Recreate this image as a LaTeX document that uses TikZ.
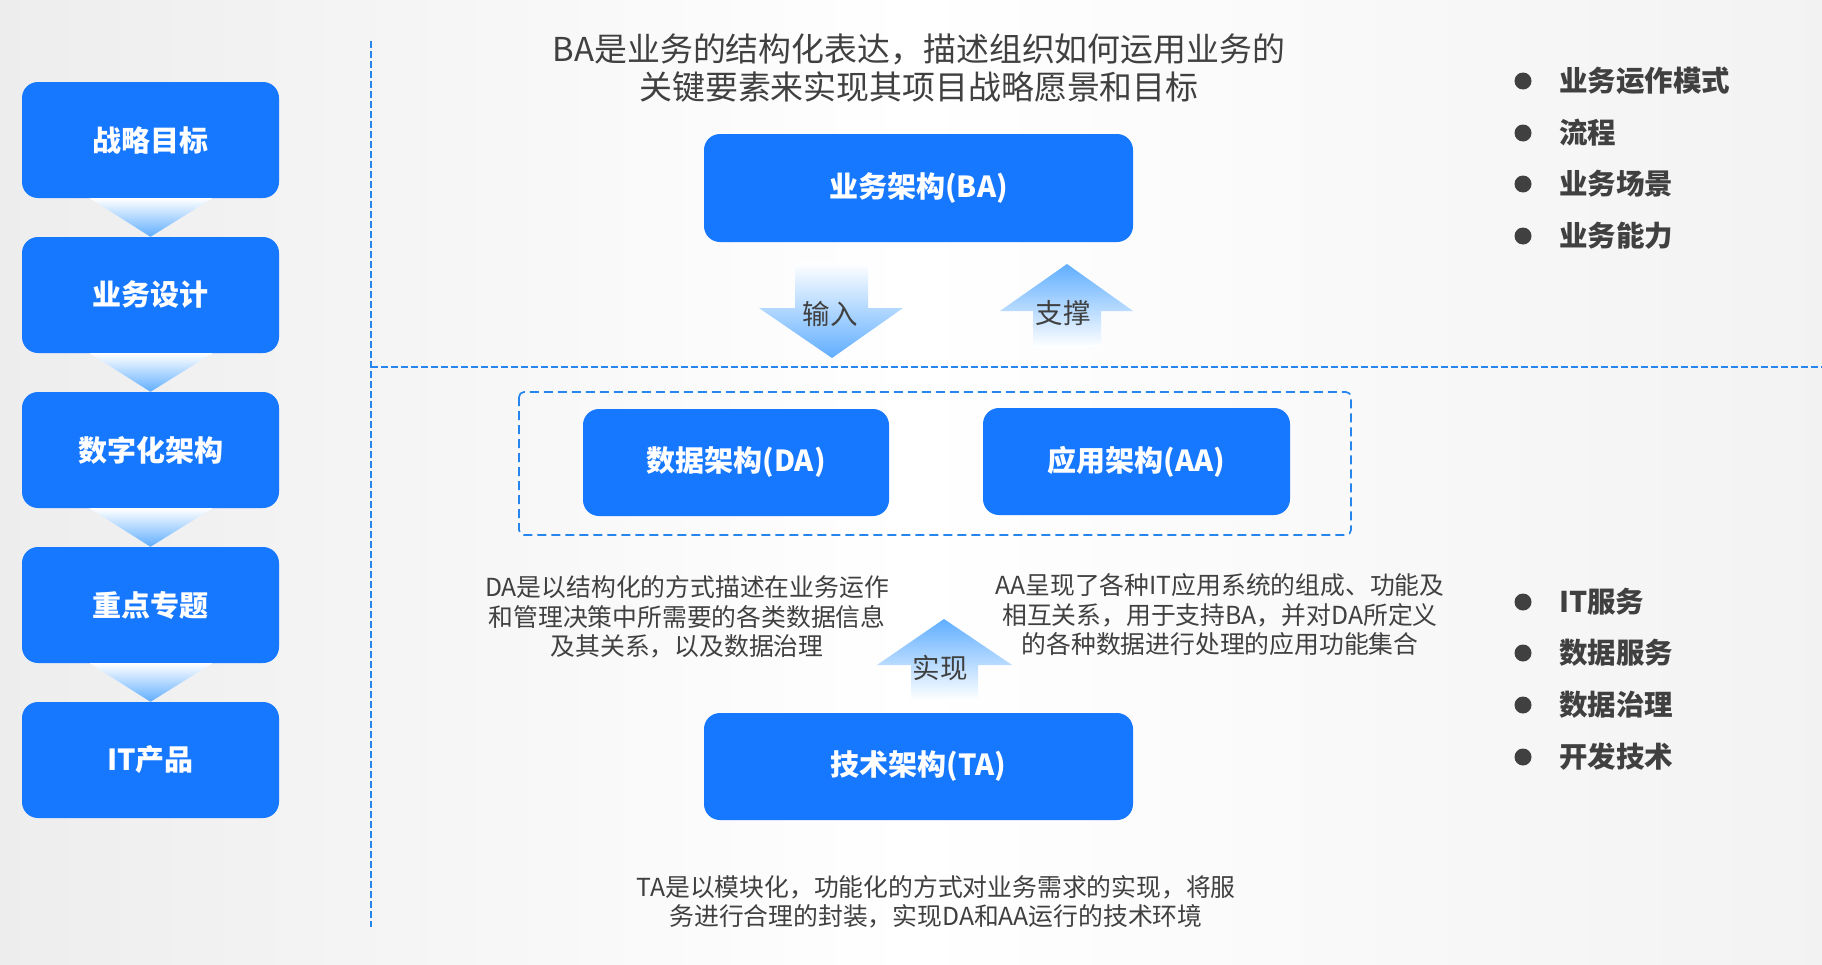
\documentclass[tikz,border=0pt]{standalone}
\usepackage{fontspec}
\setmainfont{Noto Sans CJK SC}
\definecolor{boxblue}{RGB}{22,119,255}
\definecolor{lineblue}{RGB}{38,134,238}
\definecolor{arrowblue}{RGB}{96,174,255}
\definecolor{textgray}{RGB}{64,64,64}
\begin{document}
\begin{tikzpicture}[x=1pt, y=-1pt, line join=round, line cap=round]
	\tikzset{
		bluebox/.style={fill=boxblue, rounded corners=16pt, text=white, inner sep=0pt, font=\fontsize{29}{34}\selectfont\bfseries},
		stagebox/.style={bluebox, minimum width=257pt, minimum height=116pt},
		archbox/.style={bluebox, minimum height=107pt},
		desc/.style={text=textgray, align=center, font=\fontsize{24.8}{29.5}\selectfont},
		flowlabel/.style={text=textgray, font=\fontsize{27.5}{32}\selectfont},
		item/.style={text=textgray, anchor=west, inner sep=0pt, font=\fontsize{28.5}{34}\selectfont\bfseries},
		bluedash/.style={draw=lineblue, line width=1.7pt, line cap=butt, dash pattern=on 7pt off 3pt}
	}
	\useasboundingbox (0,0) rectangle (1822,964);
	\shade[left color=black!7, right color=black!5, middle color=white] (0,0) rectangle (1822,964);
	% left column
	\foreach \i/\t in {1/战略目标,2/业务设计,3/数字化架构,4/重点专题,5/IT产品}
	\node[stagebox] (s\i) at (150.5,{140+155*(\i-1)}) {\t};
	\foreach \i/\j in {1/2,2/3,3/4,4/5}
	\shade[top color=white, bottom color=arrowblue] ([xshift=-61pt]s\i.south) -- ([xshift=62pt]s\i.south) -- (s\j.north) -- cycle;
	% dashed separators
	\draw[bluedash] (371,41) -- (371,927) (371,367) -- (1822,367);
	% top
	\node[desc, font=\fontsize{32.9}{38}\selectfont] (batext) at (919,68) {BA是业务的结构化表达，描述组织如何运用业务的\\关键要素来实现其项目战略愿景和目标};
	\node[archbox, minimum width=429pt, minimum height=108pt] (ba) at (918.5,188) {业务架构(BA)};
	\shade[top color=white, bottom color=arrowblue] (795,263) -- (868,263) -- (868,308) -- (903,308) -- (832,358) -- (759,308) -- (795,308) -- cycle;
	\shade[top color=arrowblue, bottom color=white] (1067,264) -- (1133,311) -- (1101,311) -- (1101,347) -- (1033,347) -- (1033,311) -- (1000,311) -- cycle;
	\node[flowlabel] (in) at (830,314) {输入};
	\node[flowlabel] (sup) at (1063,313) {支撑};
	% middle
	\draw[bluedash, dash pattern=on 9pt off 5pt, rounded corners=5pt] (519,392) rectangle (1351,535);
	\node[archbox, minimum width=306pt] (da) at (736,462.5) {数据架构(DA)};
	\node[archbox, minimum width=307pt] (aa) at (1136.5,461.5) {应用架构(AA)};
	\node[desc] (datext) at (687,617) {DA是以结构化的方式描述在业务运作\\和管理决策中所需要的各类数据信息\\及其关系，以及数据治理};
	\node[desc] (aatext) at (1220,615) {AA呈现了各种IT应用系统的组成、功能及\\相互关系，用于支持BA，并对DA所定义\\的各种数据进行处理的应用功能集合};
	\shade[top color=arrowblue, bottom color=white] (944,619) -- (1012,665) -- (978,665) -- (978,700) -- (911,700) -- (911,665) -- (877,665) -- cycle;
	\node[flowlabel] (impl) at (940,668) {实现};
	% bottom
	\node[archbox, minimum width=429pt] (ta) at (918.5,766.5) {技术架构(TA)};
	\node[desc] (tatext) at (936,902) {TA是以模块化，功能化的方式对业务需求的实现，将服\\务进行合理的封装，实现DA和AA运行的技术环境};
	% right lists
	\foreach \y/\t in {81/业务运作模式,133/流程,184/业务场景,236/业务能力,602/IT服务,653/数据服务,705/数据治理,757/开发技术}{
		\fill[textgray] (1523,\y) circle (8.5pt);
		\node[item] at (1559,\y) {\t};
	}
\end{tikzpicture}
\end{document}
